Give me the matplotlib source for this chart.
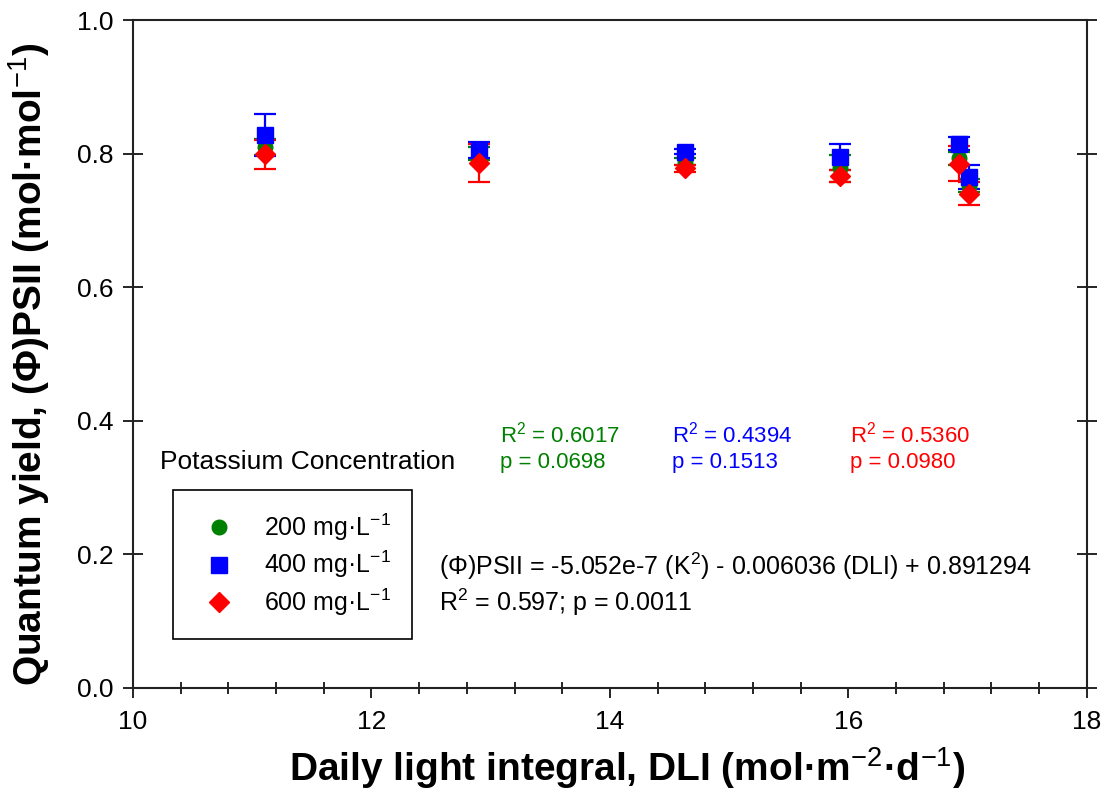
import matplotlib
matplotlib.use("Agg")
import matplotlib.pyplot as plt
from matplotlib.lines import Line2D
from matplotlib.ticker import MultipleLocator, FormatStrFormatter

plt.rcParams['font.family'] = ['Liberation Sans', 'DejaVu Sans']
plt.rcParams['mathtext.fontset'] = 'custom'
plt.rcParams['mathtext.rm'] = 'Liberation Sans'
plt.rcParams['mathtext.bf'] = 'Liberation Sans:bold'
plt.rcParams['mathtext.it'] = 'Liberation Sans:italic'

# daily light integral for each harvest
dli = [11.11, 12.90, 14.63, 15.93, 16.93, 17.01]

# quantum yield means and standard errors per potassium level
k200_mean = [0.810, 0.800, 0.788, 0.778, 0.793, 0.752]
k200_err = [0.012, 0.010, 0.005, 0.020, 0.010, 0.010]
k400_mean = [0.828, 0.805, 0.803, 0.795, 0.815, 0.765]
k400_err = [0.031, 0.012, 0.004, 0.020, 0.010, 0.018]
k600_mean = [0.799, 0.786, 0.778, 0.766, 0.785, 0.740]
k600_err = [0.022, 0.029, 0.005, 0.009, 0.026, 0.017]

labels = ['200 mg·L$^{-1}$', '400 mg·L$^{-1}$', '600 mg·L$^{-1}$']
colors = ['#008000', '#0000ff', '#ff0000']
markers = ['o', 's', 'D']
msizes = [10.5, 11, 10]
r2_text = ['R$^2$ = 0.6017\np = 0.0698', 'R$^2$ = 0.4394\np = 0.1513', 'R$^2$ = 0.5360\np = 0.0980']

fig = plt.figure(figsize=(11.07, 7.95), dpi=100)
ax = fig.add_axes([0.1201, 0.1346, 0.8617, 0.8402])

series = [(k200_mean, k200_err), (k400_mean, k400_err), (k600_mean, k600_err)]
handles = []
for (m, e), c, mk, ms, lab in zip(series, colors, markers, msizes, labels):
    ax.errorbar(dli, m, yerr=e, fmt=mk, color=c, ms=ms, mec=c, ecolor=c,
                elinewidth=1.6, capsize=8, capthick=1.6)
    handles.append(Line2D([], [], marker=mk, color=c, ms=ms, ls='none', label=lab))

ax.set_xlim(10, 18)
ax.set_ylim(0, 1.0)
ax.xaxis.set_major_locator(MultipleLocator(2))
ax.xaxis.set_minor_locator(MultipleLocator(0.4))
ax.yaxis.set_major_locator(MultipleLocator(0.2))
ax.yaxis.set_major_formatter(FormatStrFormatter('%.1f'))

ax.tick_params(axis='x', which='major', direction='out', length=7.2, width=1.2,
               labelsize=19, pad=9, top=False)
ax.tick_params(axis='x', which='minor', direction='inout', length=8.6, width=1.2, top=False)
ax.tick_params(axis='y', which='major', direction='inout', length=14.4, width=1.2,
               labelsize=19, pad=6.5)
for s in ax.spines.values():
    s.set_linewidth(1.5)
    s.set_color('#222222')

# right-hand ticks crossing the frame
ry = ax.secondary_yaxis('right')
ry.yaxis.set_major_locator(MultipleLocator(0.2))
ry.tick_params(direction='inout', length=14.4, width=1.2, labelright=False)
ry.spines['right'].set_visible(False)

ax.set_xlabel('Daily light integral, DLI (mol·m$^{-2}$·d$^{-1}$)',
              fontsize=28, fontweight='bold', labelpad=6)
ax.xaxis.set_label_coords(0.518, -0.085)
ax.set_ylabel('Quantum yield, (Φ)PSII (mol·mol$^{-1}$)',
              fontsize=28, fontweight='bold', labelpad=12)
ax.yaxis.set_label_coords(-0.085, 0.485)

ax.text(10.23, 0.338, 'Potassium Concentration', fontsize=19, va='center')
for x0, txt, c in zip([13.08, 14.52, 16.01], r2_text, colors):
    ax.text(x0, 0.36, txt, fontsize=16, color=c, va='center', linespacing=1.25)

ax.text(12.57, 0.155, '(Φ)PSII = -5.052e-7 (K$^2$) - 0.006036 (DLI) + 0.891294\n'
        'R$^2$ = 0.597; p = 0.0011', fontsize=18, va='center', linespacing=1.2)

leg = ax.legend(handles=handles, loc='upper left',
                bbox_to_anchor=(173 / 1107, 1 - 490 / 795),
                bbox_transform=fig.transFigure, fontsize=18, frameon=True,
                fancybox=False, edgecolor='black', handlelength=2.0,
                handletextpad=0.8, borderpad=0.85, labelspacing=0.25,
                borderaxespad=0, framealpha=1)
leg.get_frame().set_linewidth(1.2)

fig.savefig('out.png', dpi=100)
